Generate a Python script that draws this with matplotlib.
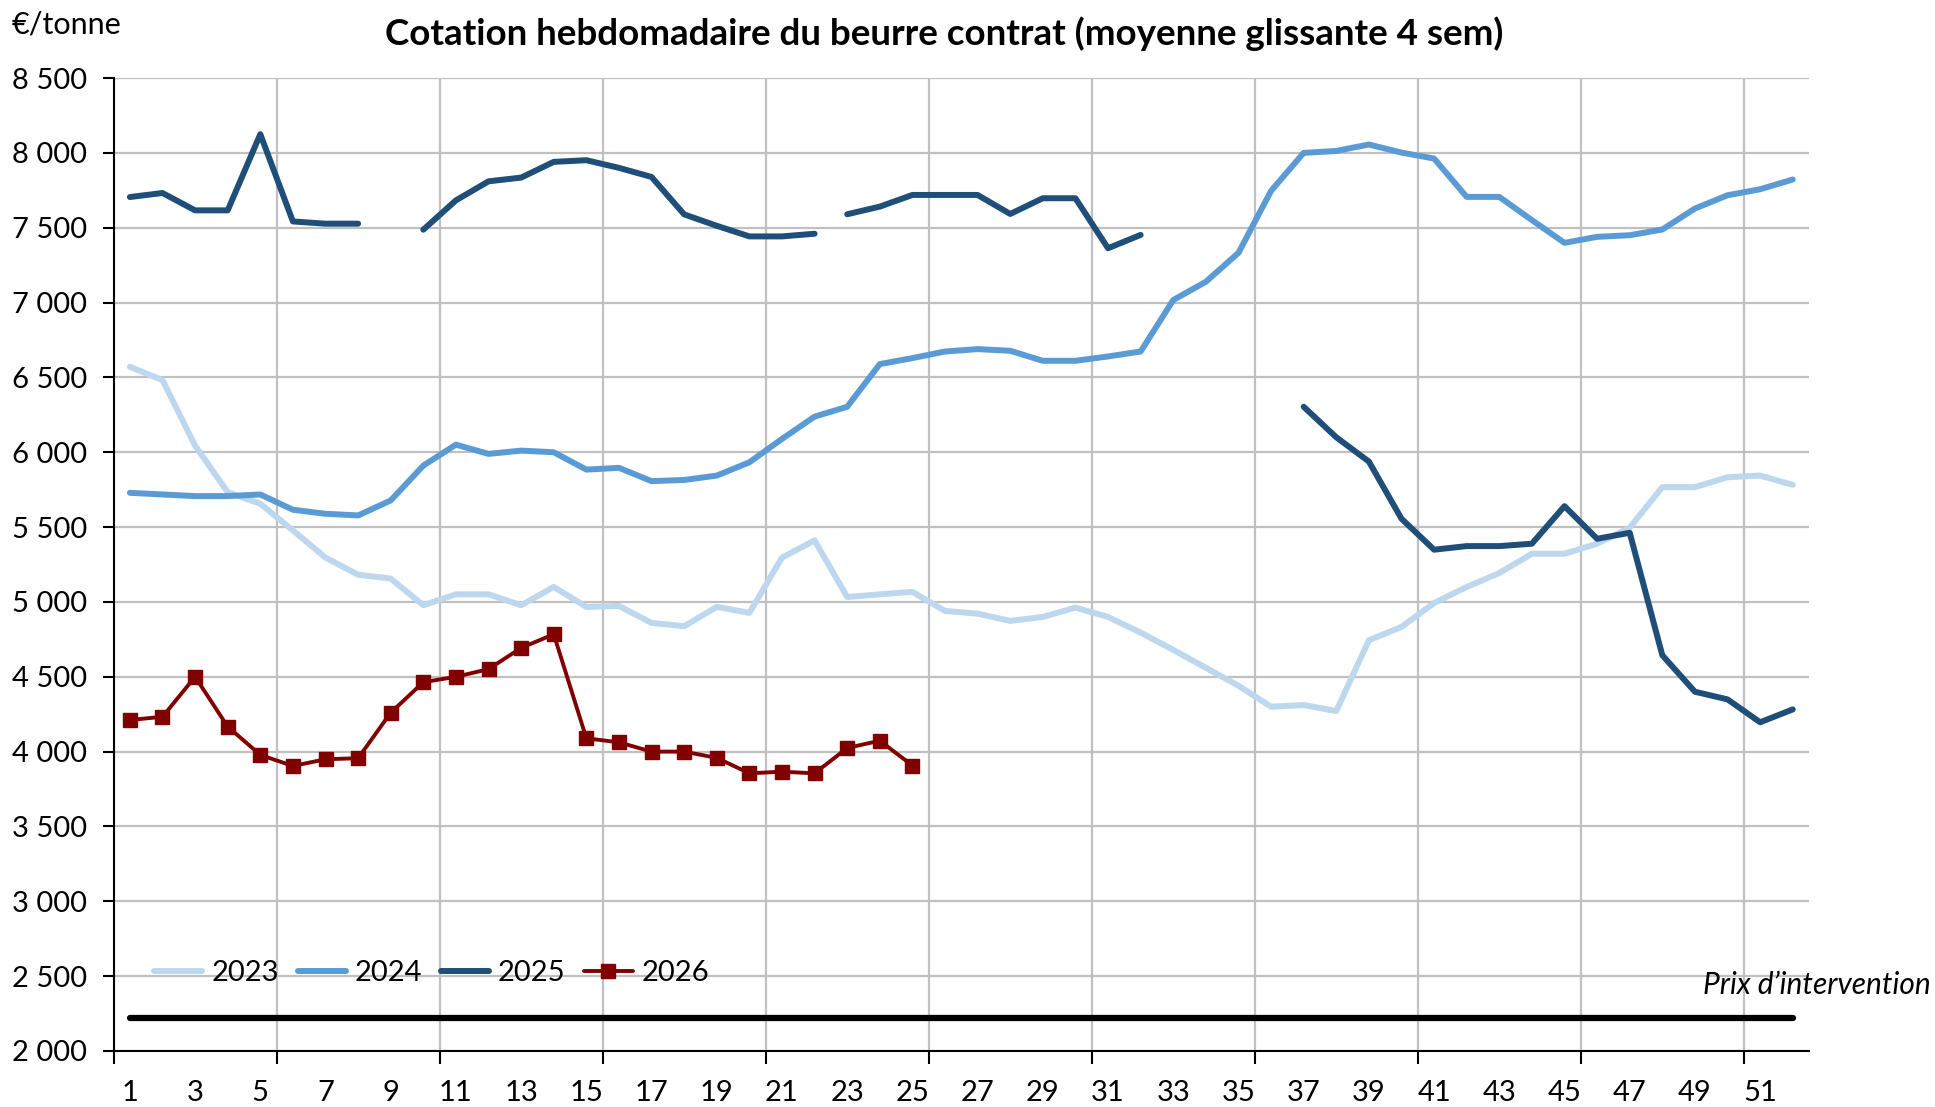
import numpy as np
import matplotlib
matplotlib.use("Agg")
import matplotlib.pyplot as plt

plt.rcParams['font.family'] = ['Lato', 'DejaVu Sans']

# Semaines 1 à 52
semaines = np.arange(1, 53)

# Cotations (€/tonne)
v2023 = [6571, 6482, 6044, 5733, 5656, 5478, 5296, 5182, 5156, 4978,
         5051, 5051, 4978, 5100, 4967, 4973, 4860, 4838, 4967, 4927,
         5296, 5411, 5033, 5051, 5067, 4940, 4922, 4873, 4900, 4962,
         4900, 4795, 4680, 4560, 4440, 4300, 4311, 4271, 4744, 4833,
         4993, 5100, 5193, 5322, 5322, 5389, 5496, 5767, 5767, 5833,
         5844, 5782]
v2024 = [5729, 5718, 5707, 5707, 5718, 5616, 5589, 5578, 5678, 5911,
         6051, 5989, 6011, 6000, 5884, 5896, 5807, 5815, 5844, 5933,
         6089, 6238, 6304, 6589, 6629, 6673, 6689, 6678, 6611, 6611,
         6640, 6673, 7017, 7139, 7332, 7746, 8000, 8013, 8056, 8002,
         7962, 7706, 7706, 7551, 7399, 7439, 7450, 7488, 7628, 7717,
         7757, 7822]
v2025 = [7705, 7732, 7616, 7616, 8125, 7542, 7527, 7527, None, 7487,
         7683, 7810, 7835, 7940, 7951, 7900, 7839, 7589, 7513, 7442,
         7442, 7460, 7590, 7641, 7719, 7719, 7719, 7592, 7697, 7697,
         7363, 7452, None, None, None, None, 6304, 6100, 5938, 5556,
         5349, 5373, 5373, 5389, 5640, 5422, 5462, 4644, 4400, 4349,
         4196, 4282]
# rupture de la courbe 2025 entre les semaines 22 et 23
ruptures_2025 = [22]
v2026 = [4211, 4233, 4500, 4167, 3978, 3904, 3949, 3956, 4260, 4464,
         4500, 4551, 4693, 4784, 4089, 4062, 4000, 4000, 3958, 3855,
         3866, 3855, 4024, 4073, 3907]

prix_intervention = 2218

couleurs = {'2023': '#BDD7EE', '2024': '#5B9BD5', '2025': '#1F4E79', '2026': '#800000'}


def segments(x, y, ruptures=()):
    # découpe une série en morceaux continus (valeurs manquantes + ruptures)
    morceaux, cx, cy = [], [], []
    for xi, yi in zip(x, y):
        if yi is None:
            if cx:
                morceaux.append((cx, cy))
            cx, cy = [], []
            continue
        cx.append(xi)
        cy.append(yi)
        if xi in ruptures:
            morceaux.append((cx, cy))
            cx, cy = [], []
    if cx:
        morceaux.append((cx, cy))
    return morceaux


fig = plt.figure(figsize=(19.35, 11.07), dpi=100)
ax = fig.add_axes([0.0587, 0.0506, 0.8762, 0.8789])

lw = 4.3
style = dict(solid_capstyle='round', solid_joinstyle='round')

ax.plot(semaines, v2023, color=couleurs['2023'], lw=lw, label='2023', **style)
ax.plot(semaines, v2024, color=couleurs['2024'], lw=lw, label='2024', **style)
for i, (sx, sy) in enumerate(segments(semaines, v2025, ruptures_2025)):
    ax.plot(sx, sy, color=couleurs['2025'], lw=lw, label='2025' if i == 0 else None, **style)
ax.plot(semaines[:len(v2026)], v2026, color=couleurs['2026'], lw=2.8, marker='s',
        markersize=10, label='2026', **style)

# prix d'intervention
ax.plot([semaines[0], semaines[-1]], [prix_intervention] * 2, color='black', lw=4.5,
        solid_capstyle='round')
ax.text(1.0047, 0.068, "Prix d\u2019intervention", transform=ax.transAxes, ha='center',
        va='center', fontsize=21.5, style='italic', clip_on=False)

ax.set_xlim(0.5, 52.5)
ax.set_ylim(2000, 8500)
ax.set_yticks(np.arange(2000, 8501, 500))
ax.set_yticklabels([f"{v:,}".replace(',', ' ') for v in range(2000, 8501, 500)])

# graduations majeures tous les 5 semaines (grille), étiquettes une semaine sur deux
ax.set_xticks(np.arange(0.5, 53, 5))
ax.set_xticklabels([])
ax.set_xticks(semaines[::2], minor=True)
ax.set_xticklabels([str(s) for s in semaines[::2]], minor=True)
ax.tick_params(axis='x', which='minor', length=0, pad=21, labelsize=21)
ax.tick_params(axis='x', which='major', length=9, width=1.5, direction='out')
ax.tick_params(axis='y', length=8, width=1.5, pad=11, labelsize=21)

ax.grid(True, which='major', color='#C0C0C0', lw=1.6)
ax.set_axisbelow(True)
for s in ['top', 'right']:
    ax.spines[s].set_visible(False)
for s in ['left', 'bottom']:
    ax.spines[s].set_linewidth(1.5)

ax.legend(loc='center left', bbox_to_anchor=(0.024, 0.08), ncol=4, frameon=False,
          fontsize=21, handlelength=1.65, handletextpad=0.3, columnspacing=0.65,
          borderpad=0, borderaxespad=0)

fig.text(0.488, 0.97, "Cotation hebdomadaire du beurre contrat (moyenne glissante 4 sem)",
         ha='center', va='center', fontsize=26.5, fontweight='bold')
fig.text(0.006, 0.978, "\u20ac/tonne", ha='left', va='center', fontsize=22)

fig.savefig("out.png", dpi=100)
